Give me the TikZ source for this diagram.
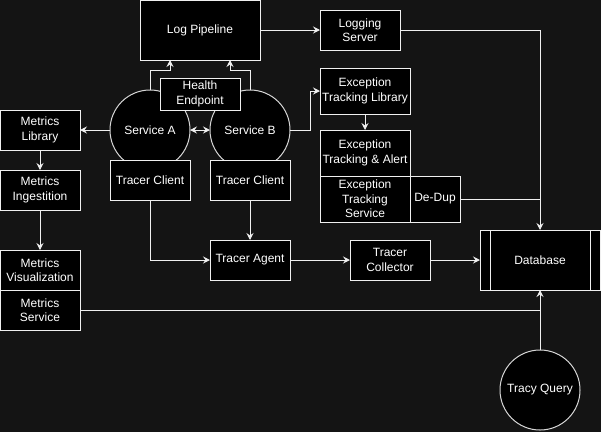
\documentclass[tikz,border=0pt]{standalone}
\usepackage{fontspec}
\setmainfont{Liberation Sans}
\usepackage{tikz}
\usetikzlibrary{arrows.meta,shapes,positioning}
\usepackage{xcolor}
\definecolor{dfbg}{RGB}{20,20,20}
\definecolor{dfline}{RGB}{240,240,240}
\definecolor{dfring}{RGB}{215,215,215}
\tikzstyle{arrow} = [line width=1pt,-{Stealth[length=7pt,width=7pt,inset=2.5pt]},color=dfline]
\tikzstyle{biarrow} = [line width=1pt,{Stealth[length=7pt,width=7pt,inset=2.5pt]}-{Stealth[length=7pt,width=7pt,inset=2.5pt]},color=dfline]
\tikzstyle{wire} = [line width=1pt,color=dfline]
\tikzstyle{darkbox} = [rectangle, minimum width=80pt, minimum height=40pt, inner sep=0pt, outer sep=0pt, align=center, draw=dfline, fill=black, line width=1pt, text=white, font=\fontsize{12}{14.4}\selectfont]
\tikzstyle{svccircle} = [circle, minimum size=80pt, inner sep=0pt, outer sep=0pt, draw=dfring, fill=black, line width=1pt, text=white, font=\fontsize{12}{14.4}\selectfont]

\begin{document}
\begin{tikzpicture}[x=1pt,y=-1pt]
\fill[dfbg] (0,0) rectangle (601,432);
\useasboundingbox (0,0) rectangle (601,432);
% Logging
\node[darkbox, minimum width=120pt, minimum height=60pt] (pipe) at (200,30) {Log Pipeline};
\node[darkbox, right=60pt of pipe] (logsrv) {Logging\\Server};
% Services
\node[svccircle] (svcA) at (150,130) {Service A};
\node[svccircle] (svcB) at (250,130) {Service B};
\node[darkbox, minimum height=32pt] (health) at (200,94) {Health\\Endpoint};
\node[darkbox] (clientA) at (150,180) {Tracer Client};
\node[darkbox] (clientB) at (250,180) {Tracer Client};
% Tracing
\node[darkbox, below=40pt of clientB] (agent) {Tracer Agent};
\node[darkbox, right=60pt of agent] (collector) {Tracer\\Collector};
\node[darkbox, minimum width=120pt, minimum height=60pt] (db) at (540,260) {Database};
\draw[wire] ([xshift=10pt]db.north west) -- ([xshift=10pt]db.south west);
\draw[wire] ([xshift=-10pt]db.north east) -- ([xshift=-10pt]db.south east);
\node[svccircle] (query) at (540,390) {Tracy Query};
% Exceptions
\node[darkbox, minimum width=90pt, minimum height=46pt] (exlib) at (365,91) {Exception\\Tracking Library};
\node[darkbox, minimum width=90pt, minimum height=46pt] (exalert) at (365,153) {Exception\\Tracking \& Alert};
\node[darkbox, minimum width=90pt, minimum height=46pt, below=0pt of exalert] (exsvc) {Exception\\Tracking\\Service};
\node[darkbox, minimum width=50pt, minimum height=46pt, right=0pt of exsvc] (dedup) {De-Dup};
% Metrics
\node[darkbox] (metlib) at (40,130) {Metrics\\Library};
\node[darkbox, below=20pt of metlib] (metingest) {Metrics\\Ingestition};
\node[darkbox, below=40pt of metingest] (metvis) {Metrics\\Visualization};
\node[darkbox, below=0pt of metvis] (metsvc) {Metrics\\Service};

\draw[arrow] (pipe) -- (logsrv);
\draw[arrow] (logsrv.east) -| (db.north);
\draw[wire] (dedup.east) -- (dedup.east -| db.north);
\draw[arrow] (svcA.north) -- ++(0,-20) -| ([xshift=-30pt]pipe.south);
\draw[arrow] (svcB.north) -- ++(0,-20) -| ([xshift=30pt]pipe.south);
\draw[biarrow] (svcA) -- (svcB);
\draw[arrow] (svcB.east) -- ++(20,0) |- (exlib.west);
\draw[arrow] (exlib) -- (exalert);
\draw[arrow] (svcA) -- (metlib);
\draw[arrow] (metlib) -- (metingest);
\draw[arrow] (metingest) -- (metvis);
\draw[arrow] (clientA.south) |- (agent.west);
\draw[arrow] (clientB) -- (agent);
\draw[arrow] (agent) -- (collector);
\draw[arrow] (collector) -- (db);
\draw[wire] (metsvc.east) -- (metsvc.east -| query.north);
\draw[arrow] (query) -- (db);
\end{tikzpicture}
\end{document}
